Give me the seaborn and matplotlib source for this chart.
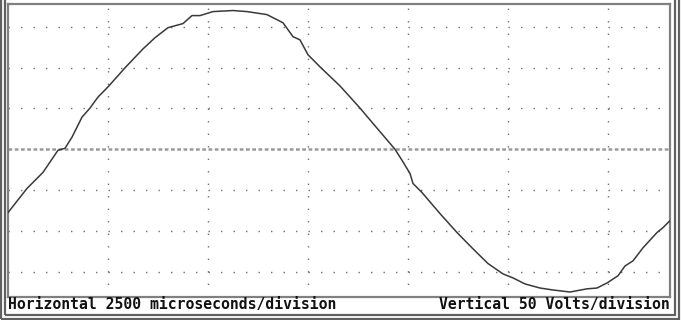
import matplotlib
matplotlib.use("Agg")
import matplotlib.pyplot as plt
from matplotlib.patches import Rectangle
import seaborn as sns
import pandas as pd

# Time (microseconds) and voltage (V)
time_us = [0, 475, 875, 1250, 1425, 1600, 1850, 2050, 2250, 2500, 2925, 3375,
           3675, 4000, 4375, 4600, 4800, 5125, 5625, 5975, 6475, 6875, 7125,
           7300, 7500, 7800, 8300, 8800, 9225, 9675, 9850, 10050, 10125, 10350,
           10800, 11225, 11625, 12000, 12375, 12625, 12925, 13300, 13625, 14050,
           14475, 14725, 14975, 15250, 15425, 15625, 15875, 16225, 16375, 16550]
volts = [-77.6, -48, -28.3, -1.2, 1.2, 14.8, 39.4, 50.5, 64, 76.4, 99.8, 123,
         136.7, 149, 154, 163.8, 163.8, 168.7, 170, 168.7, 165, 155, 138,
         134, 115.8, 101, 77.6, 50.5, 25.9, 0, -13.5, -29.6, -41.9, -53,
         -78.8, -102, -122, -140, -152.7, -157.6, -165, -170, -172.4, -174.9,
         -171, -170, -163.8, -155, -143, -136.7, -120.7, -102, -96, -87.4]

x_grid = [2500, 5000, 7500, 10000, 12500, 15000]
y_grid = [-150, -100, -50, 50, 100, 150]
h_label = "Horizontal 2500 microseconds/division"
v_label = "Vertical 50 Volts/division"

sns.set_style("white")
plt.rcParams['font.family'] = ['DejaVu Sans Mono', 'DejaVu Sans']

W, H = 681, 320
fig = plt.figure(figsize=(W / 100, H / 100), dpi=100)
fig.patch.set_facecolor("white")

ax = fig.add_axes([8 / W, 1 - 297 / H, (670 - 8) / W, (297 - 4) / H])
df = pd.DataFrame({"t": time_us, "v": volts})

for gx in x_grid:
    ax.axvline(gx, color="#707070", lw=1.0, linestyle=(0, (1, 8)), zorder=1)
for gy in y_grid:
    ax.axhline(gy, color="#707070", lw=1.0, linestyle=(0, (1, 8)), zorder=1)
ax.axhline(0, color="#9a9a9a", lw=1.8, linestyle=(0, (1.5, 1)), zorder=1)

sns.lineplot(data=df, x="t", y="v", ax=ax, color="#3a3a3a", lw=1.1,
             zorder=3, sort=False)

ax.set_xlim(0, 16550)
ax.set_ylim(-181, 178)
ax.set_xticks([])
ax.set_yticks([])
ax.set_xlabel("")
ax.set_ylabel("")
for s in ax.spines.values():
    s.set_color("#808080")
    s.set_linewidth(1.6)

# outer double frame
def frame(x0, y0, x1, y1, lw, col):
    fig.patches.append(Rectangle((x0 / W, 1 - y1 / H), (x1 - x0) / W, (y1 - y0) / H,
                                 transform=fig.transFigure, fill=False,
                                 edgecolor=col, lw=lw))

frame(4.5, -5, 674.5, 314.5, 1.6, "#606060")
frame(1, -5, 678.5, 318.5, 1.6, "#606060")

fig.text(8 / W, 1 - 305 / H, h_label, ha="left", va="center",
         fontsize=10.6, fontweight="bold", color="#111111")
fig.text(670 / W, 1 - 305 / H, v_label, ha="right", va="center",
         fontsize=10.6, fontweight="bold", color="#111111")

fig.savefig("out.png", dpi=100)
